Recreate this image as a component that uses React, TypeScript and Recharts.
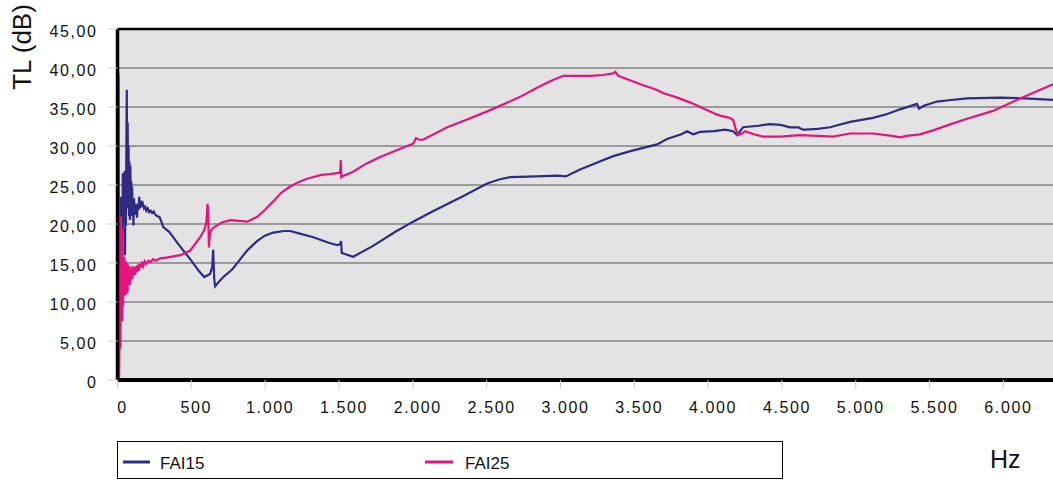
import { LineChart, Line, XAxis, YAxis, CartesianGrid, ReferenceLine } from "recharts";

// FAI15 curve (Hz / dB)
const fai15Hz = [
  18, 21, 24, 27, 30, 33, 36, 39, 42, 45,
  48, 51, 54, 57, 60, 63, 66, 69, 72, 75,
  78, 81, 84, 87, 90, 93, 96, 99, 102, 105,
  108, 112, 116, 120, 124, 128, 132, 137, 142, 147,
  152, 158, 165, 172, 180, 188, 196, 205, 215, 225,
  235, 245, 255, 270, 284, 295, 310, 350, 425, 500,
  550, 587, 627, 642, 648, 655, 661, 687, 717, 778,
  828, 878, 945, 998, 1055, 1129, 1169, 1229, 1326, 1430,
  1487, 1508, 1514, 1519, 1550, 1596, 1731, 1882, 2002, 2133,
  2333, 2504, 2584, 2659, 2835, 2978, 3036, 3133, 3237, 3357,
  3487, 3655, 3722, 3819, 3858, 3899, 3946, 4039, 4116, 4170,
  4197, 4237, 4340, 4419, 4491, 4555, 4611, 4642, 4657, 4742,
  4826, 4962, 5117, 5214, 5300, 5415, 5429, 5465, 5551, 5645,
  5754, 5977, 6147, 6348,
];
const fai15Db = [
  21, 17, 23.5, 15.5, 22, 16, 26.5, 20, 24, 21,
  26.8, 16, 25, 19.8, 30, 37.2, 25, 33, 22, 30,
  21, 28, 20.5, 27.5, 22, 25.5, 21, 24.8, 22, 23,
  19.8, 23.3, 21.5, 22.5, 21.2, 22.6, 20.8, 22.4, 21.8, 23.5,
  22, 23, 22.2, 22.6, 22, 22.2, 21.7, 22, 21.5, 21.7,
  21.4, 21.6, 21.2, 21, 20.9, 20.4, 19.6, 19, 17.1, 15.3,
  14, 13.2, 13.6, 14.5, 16.7, 13, 12, 12.6, 13.2, 14.2,
  15.4, 16.6, 17.8, 18.5, 18.9, 19.1, 19.1, 18.8, 18.3, 17.6,
  17.3, 17.4, 17.8, 16.3, 16.1, 15.8, 17.2, 19, 20.3, 21.6,
  23.5, 25.2, 25.7, 26, 26.1, 26.2, 26.1, 27, 27.8, 28.7,
  29.4, 30.2, 30.9, 31.5, 31.9, 31.5, 31.8, 31.9, 32.1, 31.9,
  31.4, 32.4, 32.6, 32.8, 32.7, 32.4, 32.4, 32.1, 32.1, 32.2,
  32.4, 33.1, 33.6, 34.1, 34.7, 35.4, 34.8, 35.2, 35.7, 35.9,
  36.1, 36.2, 36.1, 35.9,
];

// FAI25 curve
const fai25Hz = [
  8, 11, 14, 17, 20, 23, 26, 29, 32, 35,
  38, 41, 44, 47, 50, 53, 56, 59, 62, 65,
  68, 72, 76, 80, 84, 88, 92, 96, 100, 105,
  110, 115, 120, 126, 132, 138, 144, 150, 158, 166,
  175, 185, 195, 210, 225, 240, 260, 289, 330, 426,
  493, 560, 587, 602, 610, 615, 619, 627, 648, 707,
  763, 878, 945, 998, 1055, 1109, 1169, 1229, 1285, 1380,
  1440, 1508, 1512, 1516, 1521, 1596, 1681, 1779, 1882, 2002,
  2022, 2042, 2070, 2233, 2368, 2524, 2634, 2727, 2835, 2930,
  3019, 3201, 3287, 3357, 3372, 3391, 3487, 3560, 3638, 3695,
  3791, 3889, 3946, 4039, 4081, 4149, 4170, 4185, 4203, 4230,
  4251, 4310, 4372, 4491, 4623, 4742, 4846, 4962, 5117, 5244,
  5300, 5344, 5435, 5524, 5645, 5754, 5930, 6113, 6336,
];
const fai25Db = [
  39.3, 0.3, 6, 13, 4, 21, 8, 19.5, 7.5, 17,
  9.5, 15.5, 10.8, 15.8, 11.5, 14.5, 10.9, 15.2, 12, 14,
  11.2, 14.8, 12.6, 14.2, 12.2, 14.5, 13, 14, 12.9, 14.6,
  13.4, 14.4, 13.5, 14.6, 13.8, 14.8, 14, 14.9, 14.4, 15.2,
  14.6, 15.2, 14.9, 15.3, 15.1, 15.5, 15.3, 15.6, 15.7, 16,
  16.6, 18.3, 19.2, 20.2, 22.6, 21, 17, 19, 19.5, 20.2,
  20.5, 20.3, 20.9, 21.8, 22.9, 24, 24.8, 25.4, 25.8, 26.3,
  26.4, 26.6, 28.2, 26, 26.1, 26.7, 27.7, 28.6, 29.4, 30.3,
  31, 30.8, 30.8, 32.4, 33.4, 34.6, 35.5, 36.3, 37.4, 38.3,
  39, 39, 39.1, 39.3, 39.5, 39, 38.3, 37.8, 37.3, 36.8,
  36.2, 35.5, 35, 34.2, 33.9, 33.6, 33.3, 32.3, 31.4, 31.6,
  31.9, 31.5, 31.2, 31.2, 31.4, 31.3, 31.2, 31.6, 31.6, 31.3,
  31.1, 31.3, 31.5, 32, 32.8, 33.5, 34.5, 36.1, 37.9,
];

const yTicks = [0, 5, 10, 15, 20, 25, 30, 35, 40, 45];
const xTicks = [0, 500, 1000, 1500, 2000, 2500, 3000, 3500, 4000, 4500, 5000, 5500, 6000];
const seriesNames = ["FAI15", "FAI25"];
const colors = ["#2f2a82", "#e5137e"];

const fai15 = fai15Hz.map((hz, i) => ({ hz, db: fai15Db[i] }));
const fai25 = fai25Hz.map((hz, i) => ({ hz, db: fai25Db[i] }));

const font = "'Liberation Sans', Arial, sans-serif";
const narrow = "'Liberation Sans Narrow', " + font;

const fmtY = (v: number) => (v === 0 ? "0" : v.toFixed(2).replace(".", ","));
const fmtX = (v: number) =>
  v >= 1000 ? `${Math.floor(v / 1000)}.${String(v % 1000).padStart(3, "0")}` : String(v);

const YTick = ({ x, y, payload }: any) => (
  <text x={x} y={y} dy={8} textAnchor="end" fontSize={16} fontFamily={font} letterSpacing={1.6} fill="#111">
    {fmtY(payload.value)}
  </text>
);

const XTick = ({ x, y, payload }: any) => (
  <text x={x + 5} y={y} dy={22} textAnchor="middle" fontSize={16} fontFamily={font} letterSpacing={1.6} fill="#111">
    {fmtX(payload.value)}
  </text>
);

export default function App() {
  return (
    <div style={{ position: "absolute", left: 0, top: 0, width: 1053, height: 481, background: "#fff" }}>
      <LineChart width={1053} height={420} margin={{ top: 29, right: 0, bottom: 0, left: 0 }}>
        <CartesianGrid vertical={false} fill="#e3e3e3" stroke="#9a9a9a" strokeWidth={2} />
        <XAxis
          type="number"
          dataKey="hz"
          domain={[0, 6336]}
          ticks={xTicks}
          allowDataOverflow
          height={40}
          tickSize={9}
          tickMargin={2}
          tickLine={{ stroke: "#cfcfcf" }}
          axisLine={{ stroke: "#000", strokeWidth: 4 }}
          tick={<XTick />}
        />
        <YAxis
          type="number"
          dataKey="db"
          domain={[0, 45]}
          ticks={yTicks}
          allowDataOverflow
          width={117.5}
          tickSize={10}
          tickMargin={10}
          tickLine={{ stroke: "#cfcfcf" }}
          axisLine={{ stroke: "#000", strokeWidth: 3.5 }}
          tick={<YTick />}
        />
        <ReferenceLine y={45} stroke="#000" strokeWidth={2.5} />
        <Line data={fai15} dataKey="db" name={seriesNames[0]} stroke={colors[0]} strokeWidth={2.2} dot={false} isAnimationActive={false} />
        <Line data={fai25} dataKey="db" name={seriesNames[1]} stroke={colors[1]} strokeWidth={2.2} dot={false} isAnimationActive={false} />
      </LineChart>
      <svg width={1053} height={481} style={{ position: "absolute", left: 0, top: 0, pointerEvents: "none" }}>
        <text x={31} y={47} transform="rotate(-90 31 47)" textAnchor="middle" fontSize={26} fontFamily={font} fill="#111">
          TL (dB)
        </text>
        <text x={990} y={468} fontSize={25} fontFamily={font} fill="#111">
          Hz
        </text>
        <rect x={117.5} y={441.5} width={665} height={37} fill="#fff" stroke="#000" strokeWidth={1} />
        <line x1={123} x2={150} y1={462} y2={462} stroke={colors[0]} strokeWidth={3} />
        <text x={160} y={469} fontSize={17} fontFamily={narrow} fill="#111">
          {seriesNames[0]}
        </text>
        <line x1={425} x2={453} y1={462} y2={462} stroke={colors[1]} strokeWidth={3} />
        <text x={465} y={469} fontSize={17} fontFamily={narrow} fill="#111">
          {seriesNames[1]}
        </text>
      </svg>
    </div>
  );
}
